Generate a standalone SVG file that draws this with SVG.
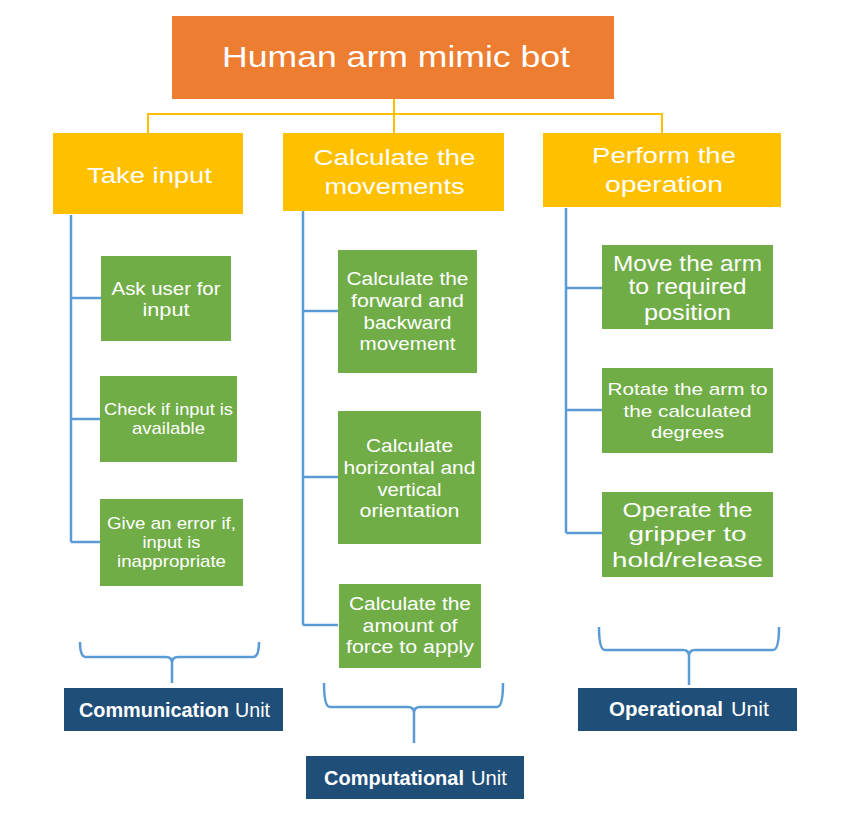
<svg xmlns="http://www.w3.org/2000/svg" width="848" height="825" viewBox="0 0 848 825">
<style>
.t{font-family:"Liberation Sans",Arial,sans-serif;fill:#fff}
.g{fill:#70AD47}
.y{fill:#FFC000}
.u{fill:#1F4E79}
.bl{stroke:#5B9BD5;stroke-width:2.5;fill:none}
.yl{stroke:#FFC000;stroke-width:2;fill:none}
</style>
<rect width="848" height="825" fill="#fff"/>
<g id="connectors">
<path class="yl" d="M394,99V114M148,133V114H662V133M394,114V133"/>
<path class="bl" d="M71,215V542M71,298H101M71,419H100M71,542H100"/>
<path class="bl" d="M303,211V625M303,311H338M303,477H338M303,625H338"/>
<path class="bl" d="M566,208V533M566,288H602M566,410H602M566,533H602"/>
<path class="bl" d="M80,642Q80,657 86,657H166Q172,657 172,663V683M172,663Q172,657 178,657H253Q259,657 259,642"/>
<path class="bl" d="M324,683Q324,707 330,707H408Q414,707 414,713V743M414,713Q414,707 420,707H497Q503,707 503,683"/>
<path class="bl" d="M599,627Q599,650 605,650H683Q689,650 689,656V685M689,656Q689,650 695,650H773Q779,650 779,627"/>
</g>
<g id="title">
<rect x="172" y="16" width="442" height="83" fill="#ED7D31"/>
<text class="t" x="396" y="67" font-size="29" text-anchor="middle" textLength="348" lengthAdjust="spacingAndGlyphs">Human arm mimic bot</text>
</g>
<g id="take-input">
<rect class="y" x="53" y="133" width="190" height="81"/>
<text class="t" x="149.500" y="183" font-size="22" text-anchor="middle" textLength="125" lengthAdjust="spacingAndGlyphs">Take input</text>
</g>
<g id="calc-movements">
<rect class="y" x="283" y="133" width="221" height="78"/>
<text class="t" x="394.500" y="165" font-size="22" text-anchor="middle" textLength="162" lengthAdjust="spacingAndGlyphs">Calculate the</text>
<text class="t" x="394.500" y="194" font-size="22" text-anchor="middle" textLength="140" lengthAdjust="spacingAndGlyphs">movements</text>
</g>
<g id="perform-op">
<rect class="y" x="543" y="133" width="238" height="74"/>
<text class="t" x="664" y="163" font-size="22" text-anchor="middle" textLength="144" lengthAdjust="spacingAndGlyphs">Perform the</text>
<text class="t" x="664" y="192" font-size="22" text-anchor="middle" textLength="118" lengthAdjust="spacingAndGlyphs">operation</text>
</g>
<g id="ask-user">
<rect class="g" x="101" y="256" width="130" height="85"/>
<text class="t" x="166" y="295" font-size="19" text-anchor="middle" textLength="109" lengthAdjust="spacingAndGlyphs">Ask user for</text>
<text class="t" x="166" y="316" font-size="19" text-anchor="middle" textLength="47" lengthAdjust="spacingAndGlyphs">input</text>
</g>
<g id="check-input">
<rect class="g" x="100" y="376" width="137" height="86"/>
<text class="t" x="168.500" y="415" font-size="17" text-anchor="middle" textLength="129" lengthAdjust="spacingAndGlyphs">Check if input is</text>
<text class="t" x="168.500" y="434" font-size="17" text-anchor="middle" textLength="73" lengthAdjust="spacingAndGlyphs">available</text>
</g>
<g id="give-error">
<rect class="g" x="100" y="499" width="143" height="87"/>
<text class="t" x="171.500" y="529" font-size="17" text-anchor="middle" textLength="129" lengthAdjust="spacingAndGlyphs">Give an error if,</text>
<text class="t" x="171.500" y="548" font-size="17" text-anchor="middle" textLength="58" lengthAdjust="spacingAndGlyphs">input is</text>
<text class="t" x="171.500" y="567" font-size="17" text-anchor="middle" textLength="109" lengthAdjust="spacingAndGlyphs">inappropriate</text>
</g>
<g id="calc-forward">
<rect class="g" x="338" y="250" width="139" height="123"/>
<text class="t" x="407.500" y="285" font-size="19" text-anchor="middle" textLength="122" lengthAdjust="spacingAndGlyphs">Calculate the</text>
<text class="t" x="407.500" y="307" font-size="19" text-anchor="middle" textLength="113" lengthAdjust="spacingAndGlyphs">forward and</text>
<text class="t" x="407.500" y="329" font-size="19" text-anchor="middle" textLength="88" lengthAdjust="spacingAndGlyphs">backward</text>
<text class="t" x="407.500" y="350" font-size="19" text-anchor="middle" textLength="96" lengthAdjust="spacingAndGlyphs">movement</text>
</g>
<g id="calc-horizontal">
<rect class="g" x="338" y="411" width="143" height="133"/>
<text class="t" x="409.500" y="452" font-size="19" text-anchor="middle" textLength="87" lengthAdjust="spacingAndGlyphs">Calculate</text>
<text class="t" x="409.500" y="474" font-size="19" text-anchor="middle" textLength="132" lengthAdjust="spacingAndGlyphs">horizontal and</text>
<text class="t" x="409.500" y="496" font-size="19" text-anchor="middle" textLength="64" lengthAdjust="spacingAndGlyphs">vertical</text>
<text class="t" x="409.500" y="517" font-size="19" text-anchor="middle" textLength="100" lengthAdjust="spacingAndGlyphs">orientation</text>
</g>
<g id="calc-force">
<rect class="g" x="339" y="584" width="142" height="84"/>
<text class="t" x="410" y="610" font-size="18" text-anchor="middle" textLength="122" lengthAdjust="spacingAndGlyphs">Calculate the</text>
<text class="t" x="410" y="632" font-size="18" text-anchor="middle" textLength="95" lengthAdjust="spacingAndGlyphs">amount of</text>
<text class="t" x="410" y="653" font-size="18" text-anchor="middle" textLength="128" lengthAdjust="spacingAndGlyphs">force to apply</text>
</g>
<g id="move-arm">
<rect class="g" x="602" y="245" width="171" height="84"/>
<text class="t" x="687.500" y="271" font-size="22" text-anchor="middle" textLength="149" lengthAdjust="spacingAndGlyphs">Move the arm</text>
<text class="t" x="687.500" y="294" font-size="22" text-anchor="middle" textLength="118" lengthAdjust="spacingAndGlyphs">to required</text>
<text class="t" x="687.500" y="320" font-size="22" text-anchor="middle" textLength="87" lengthAdjust="spacingAndGlyphs">position</text>
</g>
<g id="rotate-arm">
<rect class="g" x="602" y="368" width="171" height="85"/>
<text class="t" x="687.500" y="395" font-size="17" text-anchor="middle" textLength="160" lengthAdjust="spacingAndGlyphs">Rotate the arm to</text>
<text class="t" x="687.500" y="417" font-size="17" text-anchor="middle" textLength="128" lengthAdjust="spacingAndGlyphs">the calculated</text>
<text class="t" x="687.500" y="438" font-size="17" text-anchor="middle" textLength="73" lengthAdjust="spacingAndGlyphs">degrees</text>
</g>
<g id="operate-gripper">
<rect class="g" x="602" y="492" width="171" height="85"/>
<text class="t" x="687.500" y="517" font-size="21" text-anchor="middle" textLength="130" lengthAdjust="spacingAndGlyphs">Operate the</text>
<text class="t" x="687.500" y="541" font-size="21" text-anchor="middle" textLength="118" lengthAdjust="spacingAndGlyphs">gripper to</text>
<text class="t" x="687.500" y="567" font-size="21" text-anchor="middle" textLength="151" lengthAdjust="spacingAndGlyphs">hold/release</text>
</g>
<g id="communication-unit">
<rect class="u" x="64" y="688" width="219" height="43"/>
<text class="t" x="79" y="717" font-size="21" font-weight="bold" textLength="150" lengthAdjust="spacingAndGlyphs">Communication</text>
<text class="t" x="235" y="717" font-size="21" textLength="35" lengthAdjust="spacingAndGlyphs">Unit</text>
</g>
<g id="computational-unit">
<rect class="u" x="306" y="756" width="218" height="43"/>
<text class="t" x="324" y="785" font-size="21" font-weight="bold" textLength="140" lengthAdjust="spacingAndGlyphs">Computational</text>
<text class="t" x="471" y="785" font-size="21" textLength="36" lengthAdjust="spacingAndGlyphs">Unit</text>
</g>
<g id="operational-unit">
<rect class="u" x="578" y="688" width="219" height="43"/>
<text class="t" x="609" y="716" font-size="21" font-weight="bold" textLength="114" lengthAdjust="spacingAndGlyphs">Operational</text>
<text class="t" x="731" y="716" font-size="21" textLength="38" lengthAdjust="spacingAndGlyphs">Unit</text>
</g>
</svg>
